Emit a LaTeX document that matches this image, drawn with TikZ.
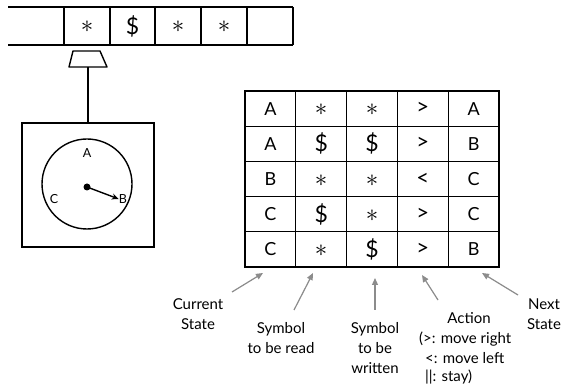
\documentclass[tikz,border=0pt]{standalone}
\usepackage{fontspec}
\setmainfont{Lato}
\usetikzlibrary{arrows.meta}
\tikzset{
  ln/.style={line width=1.4pt, black},
  cellt/.style={font=\fontsize{18}{18}\selectfont, inner sep=0pt, anchor=center},
  chev/.style={font=\fontsize{22}{22}\selectfont, inner sep=0pt, anchor=center},
  star/.style={font=\fontsize{30}{30}\selectfont, inner sep=0pt},
  dol/.style={font=\fontsize{23}{23}\selectfont, inner sep=0pt},
  lab/.style={font=\fontsize{15}{20}\selectfont, align=center, inner sep=0pt},
  garrow/.style={draw=gray!90, line width=1.2pt, -{Triangle[length=7pt,width=6pt]}, fill=gray!90}
}
\begin{document}
\begin{tikzpicture}[x=1pt,y=-1pt]
\useasboundingbox (0,0) rectangle (565,387);
% tape
\draw[ln] (8,7) -- (293,7);
\draw[ln] (8,45) -- (293,45);
\foreach \x in {64,110,155,201,247,293} \draw[ln] (\x,7) -- (\x,45);
\node[star] (tp1) at (87,27) {$\ast$};
\node[dol]  (tp2) at (132.5,26) {\$};
\node[star] (tp3) at (178,27) {$\ast$};
\node[star] (tp4) at (224,27) {$\ast$};
% head
\draw[ln, line join=round] (73,51) -- (100,51) -- (107,67) -- (69,67) -- cycle;
\coordinate (headbot) at (88,67);
\node[draw, line width=1.4pt, minimum width=132pt, minimum height=124pt, inner sep=0pt] (box) at (88,185) {};
\draw[ln] (headbot) -- (box.north);
\node[draw, line width=1.4pt, circle, minimum size=90pt, inner sep=0pt] (dial) at (87,184) {};
\node[font=\fontsize{12.5}{12}\selectfont, inner sep=0pt] (dA) at (87,153) {A};
\node[font=\fontsize{12.5}{12}\selectfont, inner sep=0pt] (dC) at (54,199) {C};
\node[font=\fontsize{12.5}{12}\selectfont, inner sep=0pt] (dB) at (123,199) {B};
\node[circle, fill=black, minimum size=7pt, inner sep=0pt] (hub) at (87,187) {};
\draw[ln, -{Stealth[length=7pt,width=6pt]}] (hub.center) -- (dB.west);
% table grid
\draw[ln] (245,91) rectangle (499,267);
\foreach \x in {295.8,346.6,397.4,448.2} \draw[line width=1.2pt] (\x,91) -- (\x,267);
\foreach \y in {126.2,161.4,196.6,231.8} \draw[line width=1.2pt] (245,\y) -- (499,\y);
% row 1
\node[cellt] (c11) at (270.4,108.6) {A};
\node[star]  (c12) at (321.2,110) {$\ast$};
\node[star]  (c13) at (372,110) {$\ast$};
\node[chev] (c14) at (422.8,108.6) {>};
\node[cellt] (c15) at (473.6,108.6) {A};
% row 2
\node[cellt] (c21) at (270.4,143.8) {A};
\node[dol]   (c22) at (321.2,143.8) {\$};
\node[dol]   (c23) at (372,143.8) {\$};
\node[chev] (c24) at (422.8,143.8) {>};
\node[cellt] (c25) at (473.6,143.8) {B};
% row 3
\node[cellt] (c31) at (270.4,179) {B};
\node[star]  (c32) at (321.2,180.4) {$\ast$};
\node[star]  (c33) at (372,180.4) {$\ast$};
\node[chev] (c34) at (422.8,179) {<};
\node[cellt] (c35) at (473.6,179) {C};
% row 4
\node[cellt] (c41) at (270.4,214.2) {C};
\node[dol]   (c42) at (321.2,214.2) {\$};
\node[star]  (c43) at (372,215.6) {$\ast$};
\node[chev] (c44) at (422.8,214.2) {>};
\node[cellt] (c45) at (473.6,214.2) {C};
% row 5
\node[cellt] (c51) at (270.4,249.4) {C};
\node[star]  (c52) at (321.2,250.8) {$\ast$};
\node[dol]   (c53) at (372,249.4) {\$};
\node[chev] (c54) at (422.8,249.4) {>};
\node[cellt] (c55) at (473.6,249.4) {B};
% arrow targets
\coordinate (t1) at (263,273);
\coordinate (t2) at (313,273);
\coordinate (t3) at (375,278);
\coordinate (t4) at (422,275);
\coordinate (t5) at (482,273);
% labels
\node[lab] (l1) at (198,314) {Current\\State};
\node[lab] (l2) at (281,338) {Symbol\\to be read};
\node[lab] (l3) at (375,348) {Symbol\\to be\\written};
\node[lab] (l4a) at (469,318) {Action};
\node[lab, anchor=west] (l4b) at (419,339) {(>: move right};
\node[lab, anchor=west] (l4c) at (425,358) {<: move left};
\node[lab, anchor=west] (l4d) at (425,377) {||: stay)};
\node[lab] (l5) at (544,314) {Next\\State};
\coordinate (s1) at (232,292);
\coordinate (s2) at (294,310);
\coordinate (s3) at (375,310);
\coordinate (s4) at (438,300);
\coordinate (s5) at (518,295);
\draw[garrow] (s1) -- (t1);
\draw[garrow] (s2) -- (t2);
\draw[garrow] (s3) -- (t3);
\draw[garrow] (s4) -- (t4);
\draw[garrow] (s5) -- (t5);
\end{tikzpicture}
\end{document}
